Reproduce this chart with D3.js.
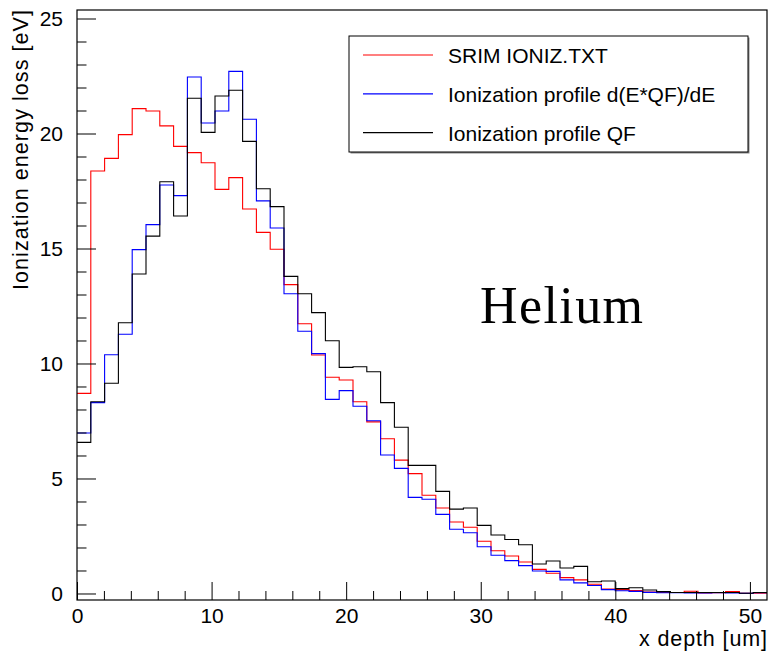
<!DOCTYPE html>
<html>
<head>
<meta charset="utf-8">
<script src="https://cdn.jsdelivr.net/npm/d3@7"></script>
<style>
  body { margin: 0; background: #fff; }
  svg { display: block; font-family: 'Liberation Sans', Arial, sans-serif; }
  .axis path { display: none; }
  .axis line { stroke: #000; }
  .axis text { font-size: 21px; fill: #000; }
</style>
</head>
<body>
<svg width="768" height="653"></svg>
<script>
(function () {

// histogram binning (50 bins over the x range)
const nBins = 50;
const xMin = 0, xMax = 51.27;
const yMin = -0.283, yMax = 25.37;

const seriesNames = ['SRIM IONIZ.TXT', 'Ionization profile d(E*QF)/dE', 'Ionization profile QF'];
const seriesColors = ['#ff0000', '#0000ff', '#000000'];

const srim = [8.7, 18.37, 18.92, 19.95, 21.08, 20.98, 20.33, 19.44, 19.17, 18.73,
  17.57, 18.08, 16.72, 15.7, 14.97, 13.43, 11.73, 10.37, 9.4, 9.28,
  8.34, 7.46, 6.73, 5.8, 5.21, 4.27, 3.72, 3.11, 2.88, 2.27,
  1.86, 1.63, 1.37, 1.05, 0.88, 0.69, 0.59, 0.4, 0.19, 0.17,
  0.13, 0.06, 0.04, 0.04, 0.1, 0.02, 0.03, 0.08, 0.01, 0.01];

const dEQF = [6.98, 8.3, 10.38, 11.27, 14.95, 16.04, 17.76, 17.3, 22.46, 20.46,
  20.98, 22.7, 20.62, 17.07, 15.89, 13.03, 11.4, 10.43, 8.44, 8.82,
  8.14, 7.51, 6.02, 5.44, 4.18, 4.1, 3.44, 2.79, 2.64, 2.03,
  1.66, 1.43, 1.21, 0.98, 0.96, 0.59, 0.46, 0.35, 0.17, 0.12,
  0.09, 0.05, 0.03, 0.03, 0.02, 0.02, 0.03, 0.02, 0.01, 0.03];

const qf = [6.57, 8.34, 9.14, 11.77, 13.89, 15.54, 17.9, 16.41, 21.53, 20.05,
  21.63, 21.88, 19.66, 17.6, 16.82, 13.79, 13.03, 12.21, 10.99, 9.83,
  9.86, 9.64, 8.3, 7.23, 5.57, 5.57, 4.44, 3.67, 3.72, 2.96,
  2.54, 2.35, 2.12, 1.28, 1.41, 1.11, 1.18, 0.51, 0.54, 0.21,
  0.25, 0.15, 0.08, 0.04, 0.04, 0.04, 0.04, 0.04, 0.01, 0.04];

const xMajorTicks = [0, 10, 20, 30, 40, 50];
const xMinorTicks = d3.range(0, 52, 2);
const yMajorTicks = [0, 5, 10, 15, 20, 25];
const yMinorTicks = d3.range(0, 26, 1);

const xTitle = 'x depth [um]';
const yTitle = 'Ionization energy loss [eV]';
const label = 'Helium';

const svg = d3.select('svg'),
    margin = {top: 10, right: 1, bottom: 53, left: 77},
    width = +svg.attr('width') - margin.left - margin.right,
    height = +svg.attr('height') - margin.top - margin.bottom;

const x = d3.scaleLinear().domain([xMin, xMax]).range([0, width]);
const y = d3.scaleLinear().domain([yMin, yMax]).range([height, 0]);

const binWidth = (xMax - xMin) / nBins;

const g = svg.append('g')
  .attr('transform', 'translate(' + margin.left + ',' + margin.top + ')');

// step outline, one flat segment per bin
function stepPoints(values) {
  const pts = [];
  values.forEach(function(v, i) {
    pts.push([xMin + i * binWidth, v]);
    pts.push([xMin + (i + 1) * binWidth, v]);
  });
  return pts;
}

const line = d3.line()
  .x(function(d) { return x(d[0]); })
  .y(function(d) { return y(d[1]); });

[srim, dEQF, qf].forEach(function(values, k) {
  g.append('path')
    .datum(stepPoints(values))
    .attr('fill', 'none')
    .attr('stroke', seriesColors[k])
    .attr('stroke-width', 1.1)
    .attr('d', line);
});

// axes, ticks pointing inward
g.append('g')
  .attr('class', 'axis x')
  .attr('transform', 'translate(0,' + height + ')')
  .call(d3.axisBottom(x).tickValues(xMajorTicks).tickSize(-18).tickPadding(8).tickFormat(d3.format('d')));

g.append('g')
  .attr('class', 'axis x minor')
  .attr('transform', 'translate(0,' + height + ')')
  .call(d3.axisBottom(x).tickValues(xMinorTicks.filter(function(d) { return d % 10 !== 0; })).tickSize(-9).tickFormat(''));

g.append('g')
  .attr('class', 'axis y')
  .call(d3.axisLeft(y).tickValues(yMajorTicks).tickSize(-19).tickPadding(14).tickFormat(d3.format('d')));

g.append('g')
  .attr('class', 'axis y minor')
  .call(d3.axisLeft(y).tickValues(yMinorTicks.filter(function(d) { return d % 5 !== 0; })).tickSize(-9.5).tickFormat(''));

// frame
g.append('rect')
  .attr('width', width)
  .attr('height', height)
  .attr('fill', 'none')
  .attr('stroke', '#000')
  .attr('stroke-width', 1.2);

// axis titles
svg.append('text')
  .attr('x', margin.left + width)
  .attr('y', 646)
  .attr('text-anchor', 'end')
  .attr('textLength', 128)
  .attr('lengthAdjust', 'spacing')
  .style('font-size', '21.5px')
  .text(xTitle);

svg.append('text')
  .attr('transform', 'translate(28,' + margin.top + ') rotate(-90)')
  .attr('text-anchor', 'end')
  .attr('textLength', 280)
  .attr('lengthAdjust', 'spacing')
  .style('font-size', '21.5px')
  .text(yTitle);

// legend
const legend = svg.append('g')
  .attr('class', 'legend')
  .attr('transform', 'translate(349,36)');

legend.append('rect')
  .attr('x', 1.5).attr('y', 1.5)
  .attr('width', 399).attr('height', 116)
  .attr('fill', '#888');

legend.append('rect')
  .attr('width', 399).attr('height', 116)
  .attr('fill', '#fff')
  .attr('stroke', '#000')
  .attr('stroke-width', 1);

const legendItem = legend.selectAll('.legend-item')
  .data(seriesNames)
  .enter().append('g')
    .attr('class', 'legend-item')
    .attr('transform', function(d, i) { return 'translate(0,' + (19 + i * 38.8) + ')'; });

legendItem.append('line')
  .attr('x1', 14).attr('x2', 84)
  .attr('stroke', function(d, i) { return seriesColors[i]; })
  .attr('stroke-width', 1.2);

legendItem.append('text')
  .attr('x', 99)
  .attr('y', 8)
  .style('font-size', '21px')
  .text(function(d) { return d; });

// sample label
svg.append('text')
  .attr('x', 480)
  .attr('y', 323)
  .attr('textLength', 163)
  .attr('lengthAdjust', 'spacing')
  .style('font-family', "'Liberation Serif', 'Times New Roman', serif")
  .style('font-size', '52px')
  .text(label);

})();
</script>
</body>
</html>
